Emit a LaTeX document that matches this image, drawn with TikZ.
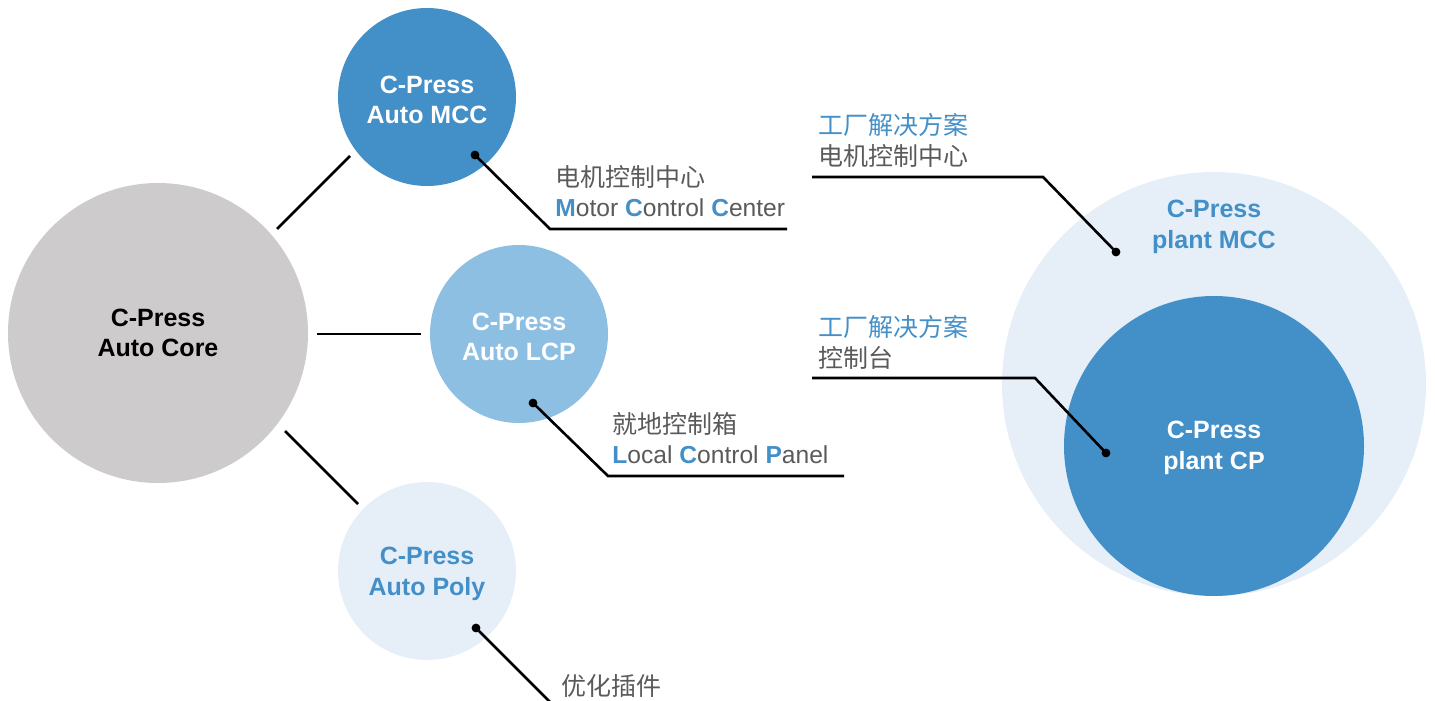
\documentclass[tikz,border=0pt]{standalone}
\usepackage{fontspec}
\setmainfont{Liberation Sans}
\newfontfamily\cjk{Noto Sans CJK SC}
\definecolor{dblue}{HTML}{438FC8}
\definecolor{mblue}{HTML}{8DBFE3}
\definecolor{pblue}{HTML}{E6EFF8}
\definecolor{cgray}{HTML}{CDCBCC}
\definecolor{tgray}{HTML}{5A5A5A}
\newcommand{\hl}[1]{\textcolor{dblue}{\textbf{#1}}}
\begin{document}
\begin{tikzpicture}[x=0.5pt,y=-0.5pt,
  ball/.style={circle, inner sep=0pt, align=center, font=\bfseries\fontsize{12.5}{15.2}\selectfont},
  entxt/.style={anchor=west, inner sep=0pt, text=tgray, font=\fontsize{12.3}{15}\selectfont},
  cntxt/.style={anchor=west, inner sep=0pt, text=tgray, font=\cjk\fontsize{12.5}{15}\selectfont},
  cnblue/.style={cntxt, text=dblue},
  link/.style={line width=1.3pt, line join=miter},
  dotmark/.style={fill=black, circle, inner sep=0pt, minimum size=4.4pt}]
\useasboundingbox (0,0) rectangle (1435,701);
% circles
\node[ball, fill=cgray, minimum size=150pt, text=black] (core) at (158,333) {C-Press\\Auto Core};
\node[ball, fill=dblue, minimum size=89pt, text=white] (mcc) at (427,97) {};
\node[ball, text=white] (mcclbl) at (427,100) {C-Press\\Auto MCC};
\node[ball, fill=mblue, minimum size=89pt, text=white] (lcp) at (519,334) {};
\node[ball, text=white] (lcplbl) at (519,337) {C-Press\\Auto LCP};
\node[ball, fill=pblue, minimum size=89pt, text=dblue] (poly) at (427,571) {};
\node[ball, text=dblue] (polylbl) at (427,574) {C-Press\\Auto Poly};
\node[circle, fill=pblue, minimum size=212pt, inner sep=0pt] (pmcc) at (1214,384) {};
\node[ball, text=dblue] (pmcclbl) at (1214,227) {C-Press\\plant MCC};
\node[ball, fill=dblue, minimum size=150pt, text=white] (pcp) at (1214,446) {};
\node[ball, text=white] (pcplbl) at (1214,448) {C-Press\\plant CP};
% core links
\coordinate (c1a) at (277,229); \coordinate (c1b) at (350,156);
\coordinate (c2a) at (317,334); \coordinate (c2b) at (421,334);
\coordinate (c3a) at (285,431); \coordinate (c3b) at (358,504);
\draw[link] (c1a) -- (c1b);
\draw[link] (c2a) -- (c2b);
\draw[link] (c3a) -- (c3b);
% leader: MCC
\node[dotmark] (d1) at (475,155) {};
\coordinate (k1) at (550,229); \coordinate (e1) at (787,229);
\draw[link] (d1.center) -- (k1) -- (e1);
\node[cntxt] (t1a) at (555,177) {电机控制中心};
\node[entxt] (t1b) at (555,208) {\hl{M}otor \hl{C}ontrol \hl{C}enter};
% leader: LCP
\node[dotmark] (d2) at (533,403) {};
\coordinate (k2) at (608,476); \coordinate (e2) at (844,476);
\draw[link] (d2.center) -- (k2) -- (e2);
\node[cntxt] (t2a) at (612,424) {就地控制箱};
\node[entxt] (t2b) at (612,455) {\hl{L}ocal \hl{C}ontrol \hl{P}anel};
% leader: Poly
\node[dotmark] (d3) at (476,628) {};
\coordinate (k3) at (551,703);
\draw[link] (d3.center) -- (k3);
\node[cntxt] (t3a) at (561,686) {优化插件};
% leader: plant MCC
\node[dotmark] (d4) at (1116,252) {};
\coordinate (s4) at (812,177); \coordinate (k4) at (1043,177);
\draw[link] (s4) -- (k4) -- (d4.center);
\node[cnblue] (t4a) at (818,125) {工厂解决方案};
\node[cntxt] (t4b) at (818,156) {电机控制中心};
% leader: plant CP
\node[dotmark] (d5) at (1106,453) {};
\coordinate (s5) at (812,378); \coordinate (k5) at (1035,378);
\draw[link] (s5) -- (k5) -- (d5.center);
\node[cnblue] (t5a) at (818,327) {工厂解决方案};
\node[cntxt] (t5b) at (818,358) {控制台};
\end{tikzpicture}
\end{document}
